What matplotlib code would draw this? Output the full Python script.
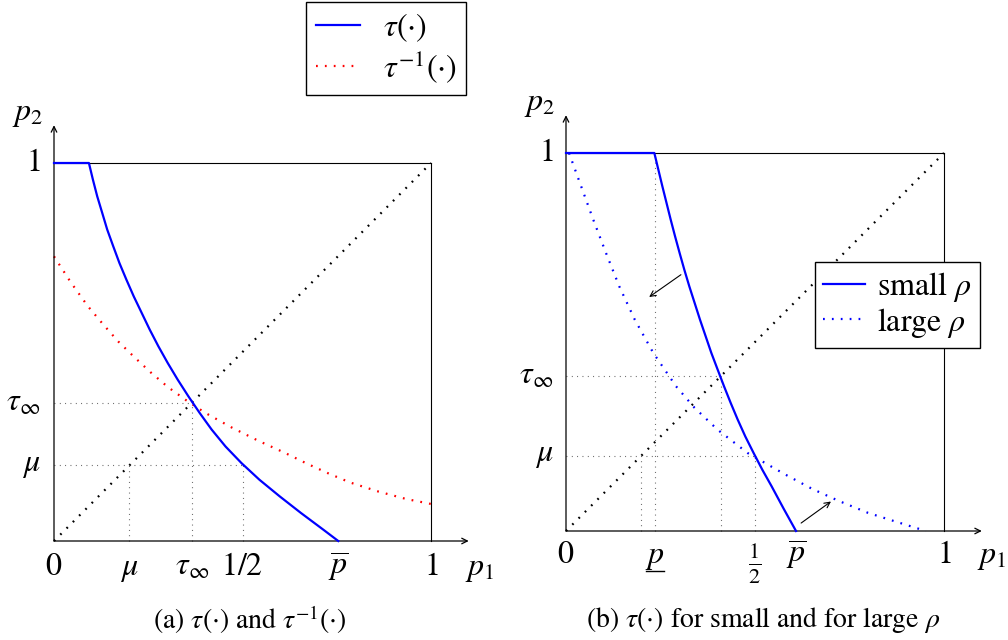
import matplotlib
matplotlib.use("Agg")
import matplotlib.pyplot as plt
from matplotlib.lines import Line2D

plt.rcParams['font.family'] = 'STIXGeneral'
plt.rcParams['mathtext.fontset'] = 'stix'

# ---- panel (a): tau and its inverse ----
tau_a_x = [0, 0.0926, 0.1032, 0.1146, 0.1279, 0.1411, 0.1570, 0.1737, 0.1922, 0.2116, 0.2328, 0.2540,
           0.2769, 0.3016, 0.3280, 0.3563, 0.3862, 0.4180, 0.4550, 0.4974, 0.5450, 0.5988, 0.6552,
           0.7143, 0.7540]
tau_a_y = [1, 1, 0.956, 0.912, 0.868, 0.824, 0.780, 0.735, 0.691, 0.647, 0.603, 0.559,
           0.515, 0.471, 0.427, 0.383, 0.339, 0.295, 0.250, 0.206, 0.162, 0.118, 0.074,
           0.030, 0]
inv_a_x = [0, 0.0441, 0.0899, 0.1296, 0.1702, 0.2125, 0.2566, 0.3025, 0.3510, 0.4012, 0.4718,
           0.5423, 0.6129, 0.6702, 0.7275, 0.7848, 0.8598, 0.9347, 1.0]
inv_a_y = [0.753, 0.685, 0.621, 0.574, 0.528, 0.487, 0.446, 0.407, 0.372, 0.339, 0.300,
           0.265, 0.233, 0.205, 0.179, 0.155, 0.131, 0.111, 0.098]
mu_a = 0.20
tinf_a = 0.366
half = 0.5
pbar_a = 0.754

# ---- panel (b): small vs large rho ----
small_x = [0, 0.2337, 0.2443, 0.2549, 0.2659, 0.2769, 0.2884, 0.3007, 0.3131, 0.3263, 0.3404, 0.3545,
           0.3695, 0.3845, 0.4012, 0.4180, 0.4356, 0.4541, 0.4744, 0.4965, 0.5194, 0.5441, 0.5758,
           0.6085]
small_y = [1, 1, 0.956, 0.912, 0.868, 0.824, 0.780, 0.735, 0.691, 0.647, 0.603, 0.559,
           0.515, 0.471, 0.427, 0.383, 0.339, 0.295, 0.250, 0.206, 0.162, 0.118, 0.059,
           0]
large_x = [0.008, 0.040, 0.072, 0.106, 0.141, 0.182, 0.231, 0.291, 0.340, 0.401, 0.481, 0.579,
           0.652, 0.723, 0.799, 0.875, 0.952]
large_y = [1.0, 0.912, 0.824, 0.735, 0.647, 0.559, 0.471, 0.383, 0.326, 0.268, 0.206, 0.150,
           0.111, 0.079, 0.048, 0.024, 0.0]
mu_b = 0.199
tinf_b = 0.41
plow_b = 0.235
pbar_b = 0.61
arrow1 = [(0.304, 0.678), (0.220, 0.619)]
arrow2 = [(0.622, 0.021), (0.701, 0.078)]

W, H = 1008, 640
fig = plt.figure(figsize=(W / 100, H / 100), dpi=100)


def make_ax(ox, oy, sx, sy, x0=-0.12, x1=1.2, y0=-0.12, y1=1.2):
    left = (ox + x0 * sx) / W
    bottom = (H - (oy - y0 * sy)) / H
    ax = fig.add_axes([left, bottom, (x1 - x0) * sx / W, (y1 - y0) * sy / H])
    ax.set_xlim(x0, x1)
    ax.set_ylim(y0, y1)
    ax.axis('off')
    return ax


def frame(ax):
    ax.plot([0, 1], [1, 1], color='black', lw=0.8)
    ax.plot([1, 1], [0, 1], color='black', lw=0.8)
    for xy in [(1.1, 0), (0, 1.1)]:
        ax.annotate('', xy=xy, xytext=(0, 0),
                    arrowprops=dict(arrowstyle='->', lw=0.9, color='black',
                                    shrinkA=0, shrinkB=0, mutation_scale=10))
    ax.plot([0, 1], [0, 1], color='black', lw=1.6, dashes=(0.8, 3.2))


def guide(ax, xs, ys):
    ax.plot(xs, ys, color='#555555', lw=0.8, dashes=(0.8, 4))


FS = 23
CAP = 20

# panel (a)
ax = make_ax(54, 541, 377, 378)
frame(ax)
guide(ax, [0, tinf_a], [tinf_a, tinf_a])
guide(ax, [tinf_a, tinf_a], [0, tinf_a])
guide(ax, [0, half], [mu_a, mu_a])
guide(ax, [mu_a, mu_a], [0, mu_a])
guide(ax, [half, half], [0, mu_a])
ax.plot(inv_a_x, inv_a_y, color='red', lw=1.6, dashes=(0.8, 3.2))
ax.plot(tau_a_x, tau_a_y, color='blue', lw=1.6, zorder=5)

yb = -0.09
for xv, lab in [(0, '$0$'), (mu_a, r'$\mu$'), (tinf_a, r'$\tau_\infty$'),
                (half, '$1/2$'), (pbar_a, r'$\overline{p}$'), (1, '$1$')]:
    ax.text(xv, yb, lab, fontsize=FS, ha='center', va='baseline', clip_on=False)
ax.text(1.13, yb, '$p_1$', fontsize=FS, ha='center', va='baseline')
for yv, lab in [(1, '$1$'), (tinf_a, r'$\tau_\infty$'), (mu_a, r'$\mu$')]:
    ax.text(-0.037, yv, lab, fontsize=FS, ha='right', va='center')
ax.text(-0.07, 1.13, '$p_2$', fontsize=FS, ha='center', va='center')

fig.legend(handles=[Line2D([], [], color='blue', lw=1.6),
                    Line2D([], [], color='red', lw=1.6, dashes=(0.8, 3.2))],
           labels=[r'$\tau(\cdot)$', r'$\tau^{-1}(\cdot)$'],
           loc='upper left', bbox_to_anchor=(306 / W, 1 - 1.5 / H),
           borderaxespad=0, fontsize=FS, fancybox=False, edgecolor='black',
           framealpha=1, handlelength=1.4, handletextpad=0.7,
           borderpad=0.3, labelspacing=0.15)
fig.text(250 / W, 1 - 620 / H, r'(a) $\tau(\cdot)$ and $\tau^{-1}(\cdot)$',
         fontsize=CAP, ha='center', va='center')

# panel (b)
bx = make_ax(566, 531, 378, 378)
frame(bx)
guide(bx, [0, tinf_b], [tinf_b, tinf_b])
guide(bx, [tinf_b, tinf_b], [0, tinf_b])
guide(bx, [0, half], [mu_b, mu_b])
guide(bx, [mu_b, mu_b], [0, mu_b])
guide(bx, [half, half], [0, mu_b])
guide(bx, [plow_b, plow_b], [0, 1])
bx.plot(large_x, large_y, color='blue', lw=1.6, dashes=(0.8, 3.2))
bx.plot(small_x, small_y, color='blue', lw=1.6, zorder=5)
for a in [arrow1, arrow2]:
    bx.annotate('', xy=a[1], xytext=a[0],
                arrowprops=dict(arrowstyle='->', lw=0.8, color='black',
                                shrinkA=0, shrinkB=0, mutation_scale=10))

yb = -0.085
for xv, lab in [(0, '$0$'), (plow_b, '$p$'),
                (pbar_b, r'$\overline{p}$'), (1, '$1$')]:
    bx.text(xv, yb, lab, fontsize=FS, ha='center', va='baseline')
# underline of the lower p
bx.plot([plow_b - 0.024, plow_b + 0.024], [-0.105, -0.105], color='black',
        lw=1.0, clip_on=False)
bx.text(half, -0.025, r'$\frac{1}{2}$', fontsize=FS, ha='center', va='top')
bx.text(1.127, yb, '$p_1$', fontsize=FS, ha='center', va='baseline')
for yv, lab in [(1, '$1$'), (tinf_b, r'$\tau_\infty$'), (mu_b, r'$\mu$')]:
    bx.text(-0.034, yv, lab, fontsize=FS, ha='right', va='center')
bx.text(-0.07, 1.13, '$p_2$', fontsize=FS, ha='center', va='center')

fig.legend(handles=[Line2D([], [], color='blue', lw=1.6),
                    Line2D([], [], color='blue', lw=1.6, dashes=(0.8, 3.2))],
           labels=[r'small $\rho$', r'large $\rho$'],
           loc='upper left', bbox_to_anchor=(815 / W, 1 - 262 / H),
           borderaxespad=0, fontsize=FS, fancybox=False, edgecolor='black',
           framealpha=1, handlelength=1.3, handletextpad=0.4,
           borderpad=0.25, labelspacing=0.05)
fig.text(763 / W, 1 - 620 / H, r'(b) $\tau(\cdot)$ for small and for large $\rho$',
         fontsize=CAP, ha='center', va='center')

fig.savefig('out.png', dpi=100)
